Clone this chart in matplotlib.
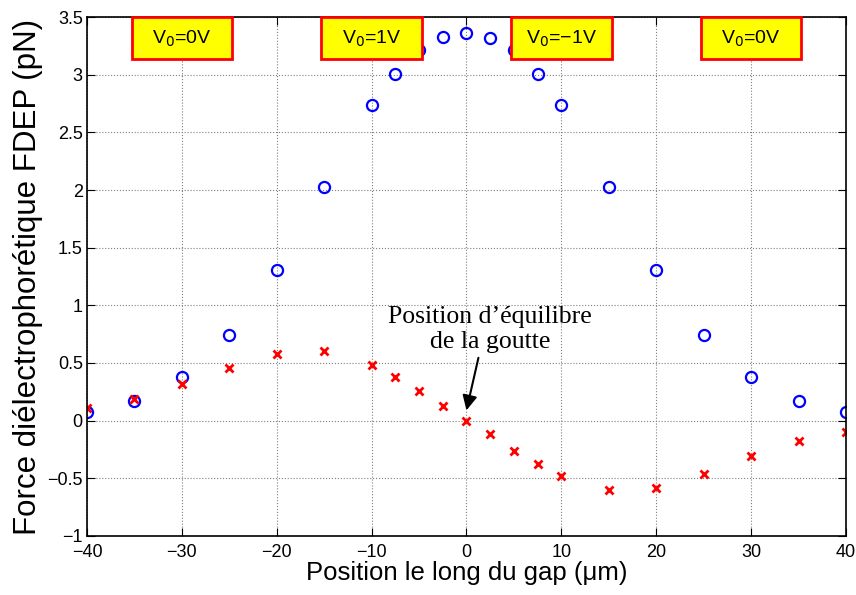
import matplotlib.pyplot as plt
from matplotlib.patches import Rectangle

plt.rcParams['font.family'] = ['Liberation Sans', 'DejaVu Sans']
plt.rcParams['axes.unicode_minus'] = True

# positions (um)
x_pos = [-40, -35, -30, -25, -20, -15, -10, -7.5, -5, -2.5, 0,
         2.5, 5, 7.5, 10, 15, 20, 25, 30, 35, 40]
# |F| (blue circles)
f_abs = [0.075, 0.17, 0.38, 0.74, 1.31, 2.03, 2.74, 3.01, 3.21, 3.33, 3.36,
         3.32, 3.21, 3.01, 2.74, 2.03, 1.31, 0.74, 0.38, 0.17, 0.075]
# F (red crosses)
f_sgn = [0.11, 0.19, 0.32, 0.46, 0.58, 0.60, 0.48, 0.38, 0.26, 0.13, 0.0,
         -0.12, -0.26, -0.38, -0.48, -0.60, -0.58, -0.46, -0.31, -0.18, -0.10]

box_x = [-30, -10, 10, 30]
box_labels = ['V$_0$=0V', 'V$_0$=1V', 'V$_0$=\u22121V', 'V$_0$=0V']


def main():
    fig = plt.figure(figsize=(8.56, 5.95), dpi=100)
    ax = fig.add_axes([0.1016, 0.0992, 0.8867, 0.8722])

    ax.plot(x_pos, f_abs, 'o', mfc='none', mec='blue', ms=8, mew=1.6)
    ax.plot(x_pos, f_sgn, 'x', color='red', ms=6, mew=2)

    ax.set_xlim(-40, 40)
    ax.set_ylim(-1, 3.5)
    ax.set_xticks(range(-40, 41, 10))
    ax.set_yticks([-1, -0.5, 0, 0.5, 1, 1.5, 2, 2.5, 3, 3.5])
    ax.set_yticklabels(['\u22121', '\u22120.5', '0', '0.5', '1', '1.5', '2', '2.5', '3', '3.5'])
    ax.tick_params(direction='in', labelsize=13, top=True, right=True, length=6)
    ax.tick_params(axis='x', pad=6)
    ax.tick_params(axis='y', pad=3)
    ax.grid(True, linestyle=':', color='gray', linewidth=0.8)
    for s in ax.spines.values():
        s.set_linewidth(1.2)

    ax.set_xlabel('Position le long du gap (\u03bcm)', fontsize=18.5, labelpad=0)
    ax.set_ylabel('Force diélectrophorétique FDEP (pN)', fontsize=22.5, labelpad=3)

    # legend boxes for the applied voltage
    bw, bh = 10.6, 0.365
    for bx, lab in zip(box_x, box_labels):
        ax.add_patch(Rectangle((bx - bw / 2, 3.5 - bh), bw, bh, fc='yellow', ec='red',
                               lw=2, zorder=5, clip_on=False))
        ax.text(bx, 3.315, lab, ha='center', va='center', fontsize=14, zorder=6)

    ax.text(2.5, 0.79, "Position d\u2019équilibre\nde la goutte", ha='center', va='center',
            fontsize=18.5, family='Liberation Serif', linespacing=1.15)
    ax.annotate('', xy=(0, 0.09), xytext=(1.26, 0.545),
                arrowprops=dict(arrowstyle='-|>', color='black', lw=1.5,
                                mutation_scale=22, shrinkA=0, shrinkB=0))

    fig.savefig('out.png', dpi=100)


if __name__ == '__main__':
    main()
